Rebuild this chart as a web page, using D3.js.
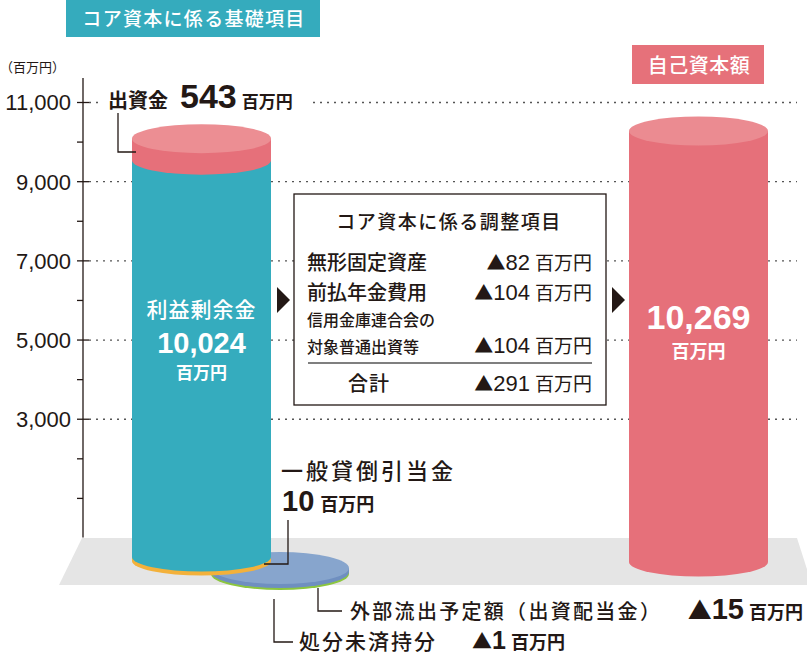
<html>
  <head>
    <meta charset="utf-8" />
    <script src="https://cdnjs.cloudflare.com/ajax/libs/d3/7.6.1/d3.min.js"></script>
    <style>
      body { margin: 0; background: #fff; }
      svg { display: block; }
      text { fill: #231815; }
    </style>
  </head>
  <body>
    <svg width="807" height="656"></svg>
  </body>
  <script>
    // values (百万円)
    const coreItems = ["利益剰余金", "出資金", "一般貸倒引当金"];
    const coreValues = [10024, 543, 10];
    const adjItems = [["無形固定資産"], ["前払年金費用"], ["信用金庫連合会の", "対象普通出資等"]];
    const adjValues = [82, 104, 104];
    const adjTotal = 291;
    const outItems = ["外部流出予定額（出資配当金）", "処分未済持分"];
    const outValues = [15, 1];
    const ownCapital = 10269;
    const tickValues = [1000, 2000, 3000, 4000, 5000, 6000, 7000, 8000, 9000, 10000, 11000];
    const labeledTicks = [3000, 5000, 7000, 9000, 11000];

    const JP = "'Noto Sans CJK JP', sans-serif";
    const NUM = "'Liberation Sans', Arial, sans-serif";
    const ink = "#231815",
      teal = "#35acbe",
      pink = "#e6707a",
      pinkTop = "#ec8e93";

    const svg = d3.select("svg");
    const y = d3.scaleLinear().domain([0, 11000]).range([537.5, 102]);
    // right cylinder is drawn on its own scale in the original
    const yRight = d3.scaleLinear().domain([0, ownCapital]).range([562, 131]);

    function side(cx, rx, ry, top, bot) {
      return `M${cx - rx},${top}L${cx - rx},${bot}A${rx},${ry} 0 0 0 ${cx + rx},${bot}L${cx + rx},${top}Z`;
    }

    // dotted gridlines
    const grid = d3.axisRight(y).tickValues(labeledTicks).tickSize(708).tickFormat("");
    const gridG = svg.append("g").attr("transform", "translate(89,0)").call(grid);
    gridG.select(".domain").remove();
    gridG.selectAll("line").attr("stroke", "#555").attr("stroke-width", 1.3).attr("stroke-dasharray", "2,5");

    // floor
    svg.append("path")
      .attr("d", "M82,538L797,538L812,585L59,585Z")
      .attr("fill", "#e5e5e5");

    // outflow disk
    const disk = { cx: 280, cy: 568, rx: 69, ry: 16 };
    svg.append("path").attr("d", side(disk.cx, disk.rx, disk.ry, disk.cy, disk.cy + 6)).attr("fill", "#8cc63f");
    svg.append("path").attr("d", side(disk.cx, disk.rx, disk.ry, disk.cy, disk.cy + 4)).attr("fill", "#6f8fc0");
    svg.append("ellipse").attr("cx", disk.cx).attr("cy", disk.cy).attr("rx", disk.rx).attr("ry", disk.ry).attr("fill", "#87a5cd");

    // left cylinder
    const L = { cx: 201.5, rx: 69.5, ry: 14.5, base: 557 };
    const shift = L.base - y(0);
    const tealTop = y(coreValues[0]) + shift;
    const pinkTopY = y(coreValues[0] + coreValues[1]) + shift;
    svg.append("path").attr("d", side(L.cx, L.rx, L.ry, L.base - 6, L.base + 4)).attr("fill", "#f3b13b");
    svg.append("path").attr("d", side(L.cx, L.rx, L.ry, tealTop, L.base)).attr("fill", teal);
    svg.append("path").attr("d", side(L.cx, L.rx, L.ry, pinkTopY, tealTop)).attr("fill", pink);
    svg.append("ellipse").attr("cx", L.cx).attr("cy", pinkTopY).attr("rx", L.rx).attr("ry", L.ry).attr("fill", pinkTop);

    // right cylinder
    const R = { cx: 698.5, rx: 69.5, ry: 14.5 };
    svg.append("path").attr("d", side(R.cx, R.rx, R.ry, yRight(ownCapital), yRight(0))).attr("fill", pink);
    svg.append("ellipse").attr("cx", R.cx).attr("cy", yRight(ownCapital)).attr("rx", R.rx).attr("ry", R.ry).attr("fill", "#eb8b91");

    // axis
    const axis = d3.axisLeft(y).tickValues(tickValues).tickSizeInner(6).tickSizeOuter(0)
      .tickFormat((d) => (labeledTicks.includes(d) ? d3.format(",")(d) : ""));
    const axisG = svg.append("g").attr("transform", "translate(83,0)").call(axis);
    axisG.select(".domain").attr("d", `M0,78V${y(0)}`).attr("stroke", ink).attr("stroke-width", 1.3);
    axisG.selectAll(".tick line").attr("stroke", ink).attr("stroke-width", 1.3)
      .attr("x1", (d) => (labeledTicks.includes(d) ? 6 : 0));
    axisG.selectAll(".tick text").attr("x", -12).attr("dy", "0.36em")
      .style("font-family", NUM).style("font-size", "22px").style("fill", ink);

    svg.append("text").attr("x", 0).attr("y", 72).style("font-family", JP).style("font-size", "13px").text("（百万円）");

    // header boxes
    svg.append("rect").attr("x", 66).attr("y", 0).attr("width", 254).attr("height", 37).attr("fill", "#35abbd");
    svg.append("text").attr("x", 194).attr("y", 26).attr("text-anchor", "middle")
      .style("font-family", JP).style("font-size", "19px").style("font-weight", 500).style("letter-spacing", "1.3px")
      .style("fill", "#fff").text("コア資本に係る基礎項目");
    svg.append("rect").attr("x", 632).attr("y", 45).attr("width", 132).attr("height", 39).attr("fill", "#e6717a");
    svg.append("text").attr("x", 699).attr("y", 73).attr("text-anchor", "middle")
      .style("font-family", JP).style("font-size", "20px").style("font-weight", 500).style("letter-spacing", "0.5px")
      .style("fill", "#fff").text("自己資本額");

    // label helper: parts of [text, size, family, weight, dx]
    function label(x, yy, parts, anchor, color) {
      const t = svg.append("text").attr("x", x).attr("y", yy).attr("text-anchor", anchor || "start");
      parts.forEach((p) => {
        t.append("tspan").text(p[0]).attr("dx", p[4] || 0).style("font-size", p[1] + "px")
          .style("font-family", p[2] || JP).style("font-weight", p[3] || 700)
          .style("fill", color || ink);
      });
      return t;
    }
    const tri = (v, size, w, numSize) => [["▲", size, JP, w], [v, numSize || size, NUM, w]];

    // 出資金 label on white to break the gridline
    svg.append("rect").attr("x", 98).attr("y", 86).attr("width", 212).attr("height", 28).attr("fill", "#fff");
    label(108, 108, [[coreItems[1], 20], [coreValues[1], 34, NUM, 700, 12], ["百万円", 17, JP, 700, 5]]);

    // text on cylinders
    label(L.cx, 317, [[coreItems[0], 21, JP, 500]], "middle", "#fff").style("letter-spacing", "1px");
    label(L.cx, 353, [[d3.format(",")(coreValues[0]), 29, NUM]], "middle", "#fff");
    label(L.cx, 379, [["百万円", 17]], "middle", "#fff");
    label(R.cx, 329, [[d3.format(",")(ownCapital), 34, NUM]], "middle", "#fff");
    label(R.cx, 358, [["百万円", 18]], "middle", "#fff");

    // 一般貸倒引当金
    label(281, 479, [[coreItems[2], 22, JP, 500]]).style("letter-spacing", "3px");
    label(282, 511, [[coreValues[2], 29, NUM], ["百万円", 18, JP, 700, 6]]);

    // outflow labels
    label(350, 619, [[outItems[0], 20, JP, 500]]).style("letter-spacing", "2.3px");
    label(803, 619, [...tri(outValues[0], 24, 700, 29), ["百万円", 18, JP, 700, 5]], "end");
    label(299, 649, [[outItems[1], 21, JP, 500]]).style("letter-spacing", "2px");
    label(472, 649, [...tri(outValues[1], 20, 700, 25), ["百万円", 18, JP, 700, 5]]);

    // adjustment box
    svg.append("rect").attr("x", 294).attr("y", 194).attr("width", 312).attr("height", 211)
      .attr("fill", "#fff").attr("stroke", ink).attr("stroke-width", 1.3);
    label(449, 229, [["コア資本に係る調整項目", 19, JP, 500]], "middle").style("letter-spacing", "1.5px");
    const rowBase = [[270], [300], [326, 353]];
    adjItems.forEach((lines, i) => {
      const small = lines.length > 1;
      lines.forEach((ln, j) => label(307, rowBase[i][j], [[ln, small ? 16 : 20, JP, 500]]));
      const vy = rowBase[i][lines.length - 1];
      label(592, vy, [...tri(adjValues[i], 19, 400, 22), ["百万円", 19, JP, 400, 5]], "end");
    });
    svg.append("line").attr("x1", 308).attr("x2", 592).attr("y1", 363).attr("y2", 363)
      .attr("stroke", "#555").attr("stroke-width", 1.5);
    label(369, 391, [["合計", 20, JP, 500]], "middle").style("letter-spacing", "1px");
    label(592, 391, [...tri(adjTotal, 19, 400, 22), ["百万円", 19, JP, 400, 5]], "end");

    // arrows
    svg.append("path").attr("d", "M277,287L290,300L277,313Z").attr("fill", ink);
    svg.append("path").attr("d", "M612,287L625,300L612,313Z").attr("fill", ink);

    // leader lines
    const leaders = [
      "M118,113V152H136",
      "M288,520V564H264",
      "M318,588V611H342",
      "M274,599V642H293",
    ];
    svg.selectAll("path.leader").data(leaders).enter().append("path")
      .attr("class", "leader").attr("d", (d) => d)
      .attr("fill", "none").attr("stroke", ink).attr("stroke-width", 1.3);
  </script>
</html>
